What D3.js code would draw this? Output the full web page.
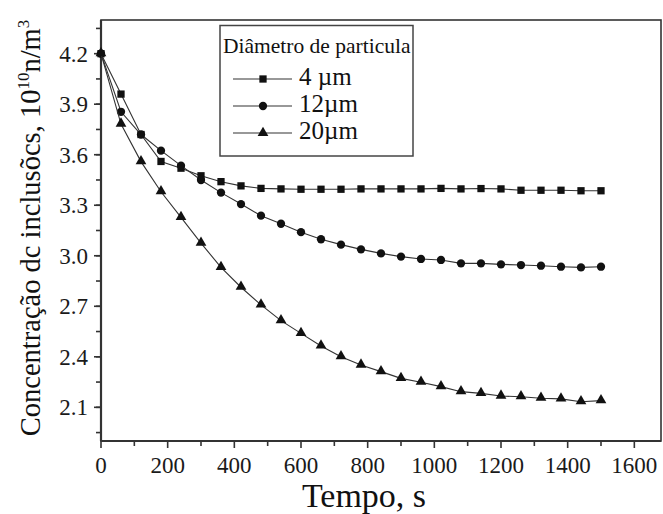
<!DOCTYPE html>
<html><head><meta charset="utf-8">
<script src="https://cdn.jsdelivr.net/npm/d3@7"></script>
<style>body{margin:0;background:#fff}svg{display:block}text{font-family:"Liberation Serif","Times New Roman",serif}</style>
</head><body>
<script>
const times = [0,60,120,180,240,300,360,420,480,540,600,660,720,780,840,900,960,1020,1080,1140,1200,1260,1320,1380,1440,1500];
const s4 = [4.20,3.96,3.72,3.56,3.52,3.475,3.44,3.415,3.40,3.397,3.395,3.395,3.395,3.397,3.397,3.397,3.397,3.40,3.397,3.399,3.397,3.389,3.389,3.389,3.386,3.386];
const s12 = [4.20,3.855,3.72,3.624,3.535,3.45,3.375,3.307,3.238,3.19,3.14,3.098,3.066,3.038,3.014,2.995,2.981,2.975,2.955,2.955,2.949,2.945,2.941,2.935,2.931,2.935];
const s20 = [4.20,3.782,3.559,3.38,3.228,3.075,2.931,2.813,2.708,2.615,2.539,2.464,2.401,2.351,2.312,2.272,2.249,2.223,2.193,2.183,2.167,2.163,2.154,2.15,2.133,2.14];
const seriesNames = ["4 µm","12µm","20µm"];
const legendTitle = "Diâmetro de particula";
const xTicks = [0,200,400,600,800,1000,1200,1400,1600];
const yTicks = [2.1,2.4,2.7,3.0,3.3,3.6,3.9,4.2];

const W=663,H=514;
const L=101,R=661,T=20,B=441;
const svg=d3.select("body").append("svg").attr("width",W).attr("height",H);
const x=d3.scaleLinear().domain([0,1680]).range([L,R]);
const y=d3.scaleLinear().domain([1.9,4.4]).range([B,T]);
const ink="#1a1a1a";

// frame
svg.append("rect").attr("x",L).attr("y",T).attr("width",R-L).attr("height",B-T)
  .attr("fill","none").attr("stroke","#333").attr("stroke-width",1.6);

// x axis
const xMinor=d3.range(0,1700,100);
svg.append("g").selectAll("line").data(xMinor).join("line")
  .attr("x1",d=>x(d)).attr("x2",d=>x(d)).attr("y1",B).attr("y2",d=>B+(d%200===0?7:5))
  .attr("stroke","#333").attr("stroke-width",1.6);
svg.append("g").selectAll("text").data(xTicks).join("text")
  .attr("x",d=>x(d)).attr("y",473).attr("text-anchor","middle").attr("font-size",23).attr("fill",ink).text(d=>d);
svg.append("line").attr("x1",L).attr("x2",R).attr("y1",B).attr("y2",B).attr("stroke","#333").attr("stroke-width",2.2);

// y axis
const yMinor=d3.range(1.95,4.41,0.15);
svg.append("g").selectAll("line").data(yMinor).join("line")
  .attr("x1",L).attr("x2",L-5).attr("y1",d=>y(d)).attr("y2",d=>y(d)).attr("stroke","#333").attr("stroke-width",1.6);
svg.append("g").selectAll("line").data(yTicks).join("line")
  .attr("x1",L).attr("x2",L-7).attr("y1",d=>y(d)).attr("y2",d=>y(d)).attr("stroke","#333").attr("stroke-width",1.6);
svg.append("g").selectAll("text").data(yTicks).join("text")
  .attr("x",L-13).attr("y",d=>y(d)+8).attr("text-anchor","end").attr("font-size",23).attr("fill",ink).text(d=>d.toFixed(1));
svg.append("line").attr("x1",L).attr("x2",L).attr("y1",T).attr("y2",B).attr("stroke","#333").attr("stroke-width",2.2);

// titles
svg.append("text").attr("x",364).attr("y",507).attr("text-anchor","middle").attr("font-size",34).attr("fill","#111").text("Tempo, s");
const yt=svg.append("text").attr("transform",`translate(40,228) rotate(-90)`).attr("text-anchor","middle").attr("font-size",28.5).attr("fill","#111");
yt.append("tspan").text("Concentração dc inclusõcs, 10");
yt.append("tspan").attr("dy",-11).attr("font-size",17).text("10");
yt.append("tspan").attr("dy",11).text("n/m");
yt.append("tspan").attr("dy",-11).attr("font-size",17).text("3");

// series
const series=[s4,s12,s20];
const symbols=[d3.symbolSquare,d3.symbolCircle,d3.symbolTriangle];
const sizes=[53,54,50];
const line=d3.line().x(d=>x(d[0])).y(d=>y(d[1]));
const plot=svg.append("g");
series.forEach((s,i)=>{
  const pts=times.map((t,j)=>[t,s[j]]);
  plot.append("path").attr("d",line(pts)).attr("fill","none").attr("stroke","#333").attr("stroke-width",1.1);
  plot.append("g").selectAll("path").data(pts).join("path")
    .attr("transform",d=>`translate(${x(d[0])},${y(d[1])+(i===2?-0.5:0)})`)
    .attr("d",d3.symbol(symbols[i],sizes[i])).attr("fill","#111");
});

// legend
const lg=svg.append("g");
lg.append("rect").attr("x",220).attr("y",25.5).attr("width",193).attr("height",130.5).attr("fill","#fff").attr("stroke","#444").attr("stroke-width",1.5);
lg.append("text").attr("x",223).attr("y",53).attr("font-size",21.5).attr("fill","#111").text(legendTitle);
seriesNames.forEach((n,i)=>{
  const yy=79+i*27;
  lg.append("line").attr("x1",233).attr("x2",292).attr("y1",yy).attr("y2",yy).attr("stroke","#333").attr("stroke-width",1.1);
  lg.append("path").attr("transform",`translate(263,${yy})`).attr("d",d3.symbol(symbols[i],sizes[i])).attr("fill","#111");
  lg.append("text").attr("x",299).attr("y",yy+6).attr("font-size",25).attr("fill","#111").text(n);
});
</script>
</body></html>
